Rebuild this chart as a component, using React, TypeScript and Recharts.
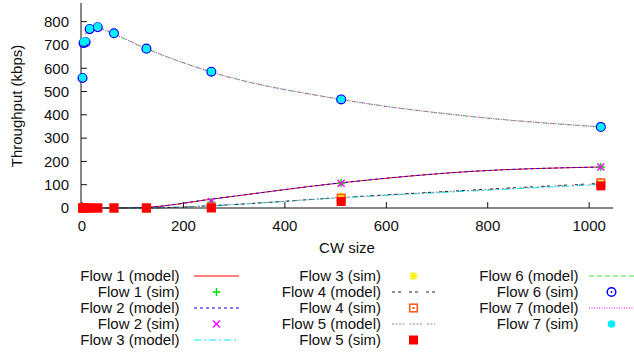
import React from 'react';
import { ComposedChart, Line, XAxis, YAxis } from 'recharts';

// ---------- data ----------
const cwValues = [1, 3, 7, 15, 31, 63, 127, 255, 511, 767, 1023];

const flow1Model = [0, 0, 0, 0, 0, 0, 3, 38, 108, 157, 176];
const flow1Sim = [0, 0, 0, 0, 0, 0, 0, 25, 107, null, 176];
const flow2Model = [0, 0, 0, 0, 0, 0, 3, 38, 108, 157, 176];
const flow2Sim = [0, 0, 0, 0, 0, 0, 0, 28, 106, null, 176];
const flow3Model = [0, 0, 0, 0, 0, 0, 0, 10, 44, 73, 101];
const flow3Sim = [0, 0, 0, 0, 0, 0, 0, 5, 50, null, 105];
const flow4Model = [0, 0, 0, 0, 0, 0, 0, 10, 45, 77, 106];
const flow4Sim = [0, 0, 0, 0, 0, 0, 0, 3, 42, null, 108];
const flow5Model = [0, 0, 0, 0, 0, 0, 0, 10, 45, 76, 104];
const flow5Sim = [0, 0, 0, 0, 0, 0, 0, 0, 28, null, 95];
const flow6Model = [null, null, 748, 768, 772, 746, 684, 584, 466, 393, 348];
const flow6Sim = [558, 708, 712, 768, 776, 750, 684, 585, 466, null, 348];
const flow7Model = [null, null, 748, 768, 772, 746, 684, 584, 466, 393, 348];
const flow7Sim = [560, 713, 717, 770, 779, 750, 684, 586, 467, null, 348];

const xTicks = [0, 200, 400, 600, 800, 1000];
const yTicks = [0, 100, 200, 300, 400, 500, 600, 700, 800];

const seriesNames = [
  'Flow 1 (model)', 'Flow 1 (sim)', 'Flow 2 (model)', 'Flow 2 (sim)', 'Flow 3 (model)',
  'Flow 3 (sim)', 'Flow 4 (model)', 'Flow 4 (sim)', 'Flow 5 (model)', 'Flow 5 (sim)',
  'Flow 6 (model)', 'Flow 6 (sim)', 'Flow 7 (model)', 'Flow 7 (sim)',
];
const seriesValues = [
  flow1Model, flow1Sim, flow2Model, flow2Sim, flow3Model, flow3Sim, flow4Model,
  flow4Sim, flow5Model, flow5Sim, flow6Model, flow6Sim, flow7Model, flow7Sim,
];

// ---------- styles ----------
type MarkerKind = 'plus' | 'cross' | 'star' | 'squareDot' | 'squareFill' | 'circleDot' | 'circleFill';
type Style = { kind: 'line'; color: string; dash?: string } | { kind: 'marker'; color: string; marker: MarkerKind };

const seriesStyles: Style[] = [
  { kind: 'line', color: '#ff0000' },
  { kind: 'marker', color: '#00dd00', marker: 'plus' },
  { kind: 'line', color: '#0000ff', dash: '3 3' },
  { kind: 'marker', color: '#ff00ff', marker: 'cross' },
  { kind: 'line', color: '#00e8ff', dash: '7 3 2 3' },
  { kind: 'marker', color: '#ffee00', marker: 'star' },
  { kind: 'line', color: '#222222', dash: '3 3 3 8' },
  { kind: 'marker', color: '#ff5a14', marker: 'squareDot' },
  { kind: 'line', color: '#888888', dash: '2 1.5 2 1.5 2 1.5 2 5' },
  { kind: 'marker', color: '#ff0000', marker: 'squareFill' },
  { kind: 'line', color: '#33ee33', dash: '5 3' },
  { kind: 'marker', color: '#0000ff', marker: 'circleDot' },
  { kind: 'line', color: '#ff00ff', dash: '1 1.5' },
  { kind: 'marker', color: '#00f0ff', marker: 'circleFill' },
];

const FONT = '"Liberation Sans", Arial, Helvetica, sans-serif';

const keys = seriesNames.map((_, i) => `s${i}`);
const rows = cwValues.map((cw, i) => {
  const r: Record<string, number | null> = { cw };
  seriesValues.forEach((arr, j) => {
    r[keys[j]] = arr[i];
  });
  return r;
});

function renderMarker(kind: MarkerKind, cx: number, cy: number, color: string, k?: string) {
  switch (kind) {
    case 'plus':
      return (
        <g key={k} stroke={color} strokeWidth={1.5}>
          <line x1={cx - 4} x2={cx + 4} y1={cy} y2={cy} />
          <line x1={cx} x2={cx} y1={cy - 4} y2={cy + 4} />
        </g>
      );
    case 'cross':
      return (
        <g key={k} stroke={color} strokeWidth={1.5}>
          <line x1={cx - 3.5} y1={cy - 3.5} x2={cx + 3.5} y2={cy + 3.5} />
          <line x1={cx - 3.5} y1={cy + 3.5} x2={cx + 3.5} y2={cy - 3.5} />
        </g>
      );
    case 'star':
      return (
        <g key={k} stroke={color} strokeWidth={1.6}>
          <line x1={cx - 4} x2={cx + 4} y1={cy} y2={cy} />
          <line x1={cx} x2={cx} y1={cy - 4} y2={cy + 4} />
          <line x1={cx - 3} y1={cy - 3} x2={cx + 3} y2={cy + 3} />
          <line x1={cx - 3} y1={cy + 3} x2={cx + 3} y2={cy - 3} />
        </g>
      );
    case 'squareDot':
      return (
        <g key={k}>
          <rect x={cx - 3.8} y={cy - 3.8} width={7.6} height={7.6} fill="none" stroke={color} strokeWidth={1.6} />
          <rect x={cx - 1} y={cy - 1} width={2} height={2} fill={color} />
        </g>
      );
    case 'squareFill':
      return <rect key={k} x={cx - 4.5} y={cy - 4.5} width={9} height={9} fill={color} />;
    case 'circleDot':
      return (
        <g key={k}>
          <circle cx={cx} cy={cy} r={4.3} fill="none" stroke={color} strokeWidth={1.5} />
          <circle cx={cx} cy={cy} r={1} fill={color} />
        </g>
      );
    case 'circleFill':
    default:
      return <circle key={k} cx={cx} cy={cy} r={3.8} fill={color} />;
  }
}

const W = 634;
const H = 358;

// legend layout
const legendTextRight = [179.5, 381, 578.5];
const legendSampleX = [
  [194, 239],
  [392, 435],
  [589, 634],
];
const legendRow0 = 276;
const legendRowStep = 16;

export default function App() {
  return (
    <div style={{ position: 'absolute', left: 0, top: 0, width: W, height: H, background: '#fff' }}>
      <ComposedChart
        width={W}
        height={H}
        data={rows}
        margin={{ top: 3, right: 21, bottom: 0, left: 0 }}
      >
        <XAxis
          dataKey="cw"
          type="number"
          domain={[-2, 1047]}
          ticks={xTicks}
          height={150}
          tickSize={-6}
          tickMargin={18}
          stroke="#111"
          tick={{ fill: '#111', fontSize: 15, fontFamily: FONT }}
          interval={0}
        />
        <XAxis
          xAxisId="top"
          dataKey="cw"
          type="number"
          orientation="top"
          domain={[-2, 1047]}
          ticks={xTicks}
          height={0}
          tickSize={-6}
          tick={false}
          stroke="#111"
          interval={0}
        />
        <YAxis
          type="number"
          domain={[0, 880]}
          ticks={yTicks}
          width={81}
          tickSize={-6}
          tickMargin={18}
          stroke="#111"
          tick={{ fill: '#111', fontSize: 15, fontFamily: FONT }}
          interval={0}
        />
        <YAxis
          yAxisId="right"
          type="number"
          orientation="right"
          domain={[0, 880]}
          ticks={yTicks}
          width={0}
          tickSize={-6}
          tick={false}
          stroke="#111"
          interval={0}
        />
        {seriesStyles.map((st, i) => {
          if (st.kind === 'line') {
            return (
              <Line
                key={keys[i]}
                dataKey={keys[i]}
                name={seriesNames[i]}
                type="monotone"
                stroke={st.color}
                strokeWidth={1}
                strokeDasharray={st.dash}
                dot={false}
                activeDot={false}
                isAnimationActive={false}
              />
            );
          }
          const mk = st.marker;
          const col = st.color;
          return (
            <Line
              key={keys[i]}
              dataKey={keys[i]}
              name={seriesNames[i]}
              stroke="none"
              activeDot={false}
              isAnimationActive={false}
              dot={(p: any) => {
                const kk = `${keys[i]}-${p.index}`;
                if (p.cy == null || p.cx == null || Number.isNaN(p.cy) || p.value == null) {
                  return <g key={kk} />;
                }
                return renderMarker(mk, p.cx, p.cy, col, kk);
              }}
            />
          );
        })}
      </ComposedChart>
      <svg
        width={W}
        height={H}
        style={{ position: 'absolute', left: 0, top: 0, pointerEvents: 'none' }}
      >
        <text
          x={0}
          y={0}
          transform="translate(22 106) rotate(-90)"
          textAnchor="middle"
          fontSize={15}
          fontFamily={FONT}
          fill="#111"
        >
          Throughput (kbps)
        </text>
        <text x={347} y={253} textAnchor="middle" fontSize={15} fontFamily={FONT} fill="#111">
          CW size
        </text>
        {seriesNames.map((name, i) => {
          const col = Math.floor(i / 5);
          const row = i % 5;
          const cy = legendRow0 + row * legendRowStep;
          const st = seriesStyles[i];
          const [sx0, sx1] = legendSampleX[col];
          return (
            <g key={`leg-${i}`}>
              <text
                x={legendTextRight[col]}
                y={cy + 5.3}
                textAnchor="end"
                fontSize={15}
                fontFamily={FONT}
                fill="#111"
              >
                {name}
              </text>
              {st.kind === 'line' ? (
                <line
                  x1={sx0}
                  x2={sx1}
                  y1={cy}
                  y2={cy}
                  stroke={st.color}
                  strokeWidth={1}
                  strokeDasharray={st.dash}
                />
              ) : (
                renderMarker(st.marker, (sx0 + sx1) / 2, cy, st.color)
              )}
            </g>
          );
        })}
      </svg>
    </div>
  );
}
